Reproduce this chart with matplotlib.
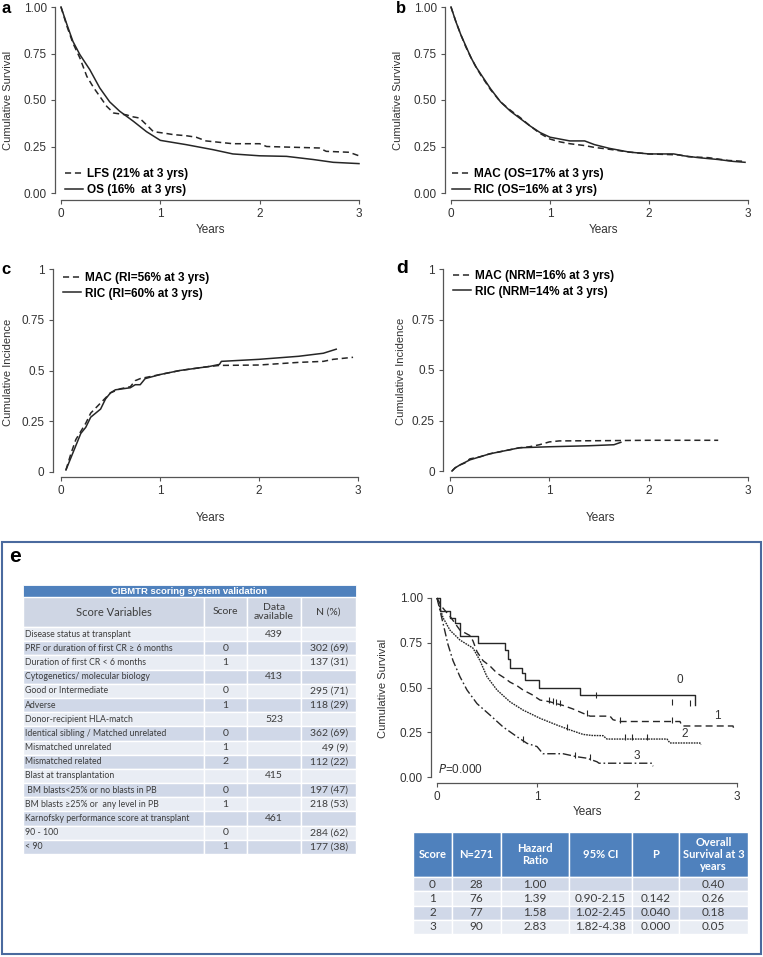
import numpy as np
import matplotlib.pyplot as plt
from matplotlib.patches import Rectangle

W, H = 763, 957
plt.rcParams['font.family'] = ['Liberation Sans', 'DejaVu Sans']

# ---- panel a: LFS / OS ----
a_lfs_t = [0, 0.06, 0.12, 0.19, 0.26, 0.33, 0.39, 0.46, 0.53, 0.66, 0.72, 0.79, 0.86, 0.93,
           1.06, 1.13, 1.26, 1.36, 1.46, 1.73, 2.0, 2.07, 2.6, 2.67, 2.9, 3.0]
a_lfs_s = [1.0, 0.896, 0.806, 0.726, 0.627, 0.565, 0.52, 0.466, 0.43, 0.42, 0.41, 0.403, 0.367,
           0.33, 0.32, 0.314, 0.308, 0.30, 0.28, 0.265, 0.265, 0.25, 0.242, 0.224, 0.219, 0.20]
a_os_t = [0, 0.06, 0.12, 0.19, 0.29, 0.39, 0.49, 0.59, 0.73, 0.86, 1.0, 1.26, 1.53, 1.73,
          2.0, 2.27, 2.54, 2.74, 3.0]
a_os_s = [1.0, 0.905, 0.815, 0.744, 0.663, 0.565, 0.49, 0.44, 0.385, 0.33, 0.283, 0.26, 0.233,
          0.21, 0.20, 0.197, 0.18, 0.165, 0.158]

# ---- panel b: MAC / RIC overall survival ----
b_mac_t = [0, 0.05, 0.1, 0.15, 0.2, 0.25, 0.3, 0.4, 0.5, 0.6, 0.7, 0.8, 0.9, 1.0, 1.1, 1.2,
           1.35, 1.45, 1.6, 1.8, 2.0, 2.3, 2.4, 2.6, 2.8, 2.97]
b_mac_s = [1.0, 0.92, 0.85, 0.785, 0.73, 0.68, 0.635, 0.555, 0.49, 0.445, 0.405, 0.36, 0.32,
           0.29, 0.275, 0.265, 0.255, 0.245, 0.235, 0.22, 0.21, 0.205, 0.195, 0.19, 0.175, 0.17]
b_ric_t = [0, 0.05, 0.1, 0.15, 0.2, 0.25, 0.3, 0.4, 0.5, 0.6, 0.7, 0.8, 0.9, 1.0, 1.1, 1.2,
           1.35, 1.45, 1.6, 1.8, 2.0, 2.25, 2.35, 2.5, 2.7, 2.85, 2.97]
b_ric_s = [1.0, 0.92, 0.85, 0.79, 0.73, 0.68, 0.64, 0.56, 0.49, 0.44, 0.40, 0.36, 0.325, 0.30,
           0.29, 0.28, 0.28, 0.26, 0.24, 0.22, 0.21, 0.21, 0.20, 0.19, 0.18, 0.17, 0.165]

# ---- panel c: relapse incidence ----
c_mac_t = [0.05, 0.1, 0.15, 0.2, 0.25, 0.3, 0.4, 0.5, 0.6, 0.7, 0.75, 0.8, 0.9, 1.0, 1.2,
           1.5, 1.6, 2.0, 2.4, 2.65, 2.75, 2.95]
c_mac_s = [0.01, 0.09, 0.16, 0.20, 0.24, 0.29, 0.34, 0.39, 0.41, 0.42, 0.45, 0.46, 0.47, 0.48,
           0.50, 0.52, 0.525, 0.527, 0.54, 0.545, 0.555, 0.565]
c_ric_t = [0.05, 0.1, 0.15, 0.2, 0.25, 0.3, 0.35, 0.4, 0.45, 0.5, 0.55, 0.7, 0.75, 0.8, 0.85,
           1.0, 1.2, 1.5, 1.6, 1.62, 2.0, 2.4, 2.65, 2.78]
c_ric_s = [0.01, 0.07, 0.13, 0.19, 0.22, 0.27, 0.29, 0.31, 0.36, 0.39, 0.405, 0.415, 0.43, 0.43,
           0.46, 0.48, 0.50, 0.52, 0.53, 0.545, 0.555, 0.57, 0.585, 0.605]

# ---- panel d: non-relapse mortality ----
d_mac_t = [0.02, 0.05, 0.1, 0.15, 0.2, 0.3, 0.4, 0.5, 0.6, 0.7, 0.8, 0.9, 1.0, 1.1, 1.5, 2.0, 2.7]
d_mac_s = [0.0, 0.015, 0.03, 0.04, 0.06, 0.07, 0.085, 0.095, 0.105, 0.115, 0.12, 0.13, 0.144,
           0.149, 0.15, 0.152, 0.152]
d_ric_t = [0.02, 0.05, 0.1, 0.2, 0.3, 0.4, 0.5, 0.6, 0.7, 1.0, 1.4, 1.65, 1.72]
d_ric_s = [0.0, 0.015, 0.03, 0.055, 0.07, 0.085, 0.095, 0.105, 0.115, 0.12, 0.125, 0.13, 0.142]

# ---- panel e: survival by CIBMTR score ----
e0_t = [0, 0.03, 0.13, 0.18, 0.23, 0.41, 0.68, 0.71, 0.73, 0.85, 0.88, 1.02, 1.43, 2.58]
e0_s = [1.0, 0.93, 0.89, 0.86, 0.79, 0.75, 0.71, 0.66, 0.61, 0.58, 0.54, 0.495, 0.457, 0.40]
e1_t = [0, 0.05, 0.14, 0.23, 0.33, 0.36, 0.40, 0.46, 0.53, 0.60, 0.67, 0.73, 0.80, 0.86, 0.95,
        1.03, 1.13, 1.26, 1.36, 1.46, 1.53, 1.73, 1.76, 1.83, 2.43, 2.45, 2.96, 2.97]
e1_s = [1.0, 0.95, 0.89, 0.82, 0.79, 0.76, 0.70, 0.65, 0.62, 0.58, 0.555, 0.53, 0.51, 0.486,
        0.46, 0.43, 0.42, 0.40, 0.38, 0.356, 0.34, 0.34, 0.32, 0.31, 0.31, 0.285, 0.285, 0.266]
e2_t = [0, 0.06, 0.13, 0.23, 0.36, 0.43, 0.50, 0.60, 0.73, 0.86, 1.03, 1.20, 1.33, 1.46, 1.55,
        1.66, 1.70, 2.30, 2.33, 2.63, 2.64]
e2_s = [1.0, 0.89, 0.82, 0.765, 0.72, 0.65, 0.56, 0.486, 0.42, 0.374, 0.328, 0.29, 0.263, 0.238,
        0.232, 0.231, 0.212, 0.212, 0.19, 0.19, 0.18]
e3_t = [0, 0.06, 0.11, 0.16, 0.23, 0.30, 0.40, 0.53, 0.66, 0.80, 0.90, 1.00, 1.06, 1.26, 1.40,
        1.50, 1.60, 1.62, 2.15, 2.16]
e3_s = [1.0, 0.86, 0.74, 0.65, 0.56, 0.486, 0.41, 0.346, 0.28, 0.225, 0.188, 0.17, 0.13, 0.13,
        0.113, 0.105, 0.085, 0.077, 0.077, 0.06]
e0_cens = [1.59, 2.35, 2.53]
e1_cens = [1.12, 1.16, 1.19, 1.23, 1.5, 1.83, 2.35]
e2_cens = [1.3, 1.88, 1.95, 2.1]
e3_cens = [0.86, 1.38, 1.53]

# ---- table: CIBMTR scoring system validation ----
t1_title = 'CIBMTR scoring system validation'
t1_cols = ['Score Variables', 'Score', 'Data\navailable', 'N (%)']
t1_var = ['Disease status at transplant', 'PRF or duration of first CR \u2265 6 months',
          'Duration of first CR < 6 months', 'Cytogenetics/ molecular biology',
          'Good or Intermediate', 'Adverse', 'Donor-recipient HLA-match',
          'Identical sibling / Matched unrelated', 'Mismatched unrelated', 'Mismatched related',
          'Blast at transplantation', ' BM blasts<25% or no blasts in PB',
          'BM blasts \u226525% or  any level in PB', 'Karnofsky performance score at transplant',
          '90 - 100', '< 90']
t1_score = ['', '0', '1', '', '0', '1', '', '0', '1', '2', '', '0', '1', '', '0', '1']
t1_avail = ['439', '', '', '413', '', '', '523', '', '', '', '415', '', '', '461', '', '']
t1_n = ['', '302 (69)', '137 (31)', '', '295 (71)', '118 (29)', '', '362 (69)', '49 (9)',
        '112 (22)', '', '197 (47)', '218 (53)', '', '284 (62)', '177 (38)']

# ---- table: hazard ratios by score ----
t2_cols = ['Score', 'N=271', 'Hazard\nRatio', '95% CI', 'P', 'Overall\nSurvival at 3\nyears']
t2_score = ['0', '1', '2', '3']
t2_n = ['28', '76', '77', '90']
t2_hr = ['1.00', '1.39', '1.58', '2.83']
t2_ci = ['', '0.90-2.15', '1.02-2.45', '1.82-4.38']
t2_p = ['', '0.142', '0.040', '0.000']
t2_os = ['0.40', '0.26', '0.18', '0.05']

LINE = '#262626'
SPINE = '#555555'
BLUE = '#4f81bd'
DARK_ROW = '#d0d8e8'
LIGHT_ROW = '#e9edf4'
TEXT = '#3c3c3c'
TFONT = ['Lato', 'DejaVu Sans']


def fx(x):
    return x / W


def fy(y):
    return 1 - y / H


def make_axes(fig, x0, x3, y1, y0, left_out, bottom_out, yticks, ylabels):
    # x0/x3: pixel of x=0 and x=3, y1/y0: pixel of y=1 and y=0
    ax = fig.add_axes([fx(x0), fy(y0), (x3 - x0) / W, (y0 - y1) / H])
    ax.set_xlim(0, 3)
    ax.set_ylim(0, 1)
    ax.patch.set_visible(False)
    ax.spines['top'].set_visible(False)
    ax.spines['right'].set_visible(False)
    ax.spines['left'].set_position(('outward', left_out))
    ax.spines['bottom'].set_position(('outward', bottom_out))
    ax.spines['left'].set_bounds(0, 1)
    ax.spines['bottom'].set_bounds(0, 3)
    for s in ['left', 'bottom']:
        ax.spines[s].set_color(SPINE)
        ax.spines[s].set_linewidth(0.9)
    ax.set_xticks([0, 1, 2, 3])
    ax.set_yticks(yticks, ylabels)
    ax.tick_params(length=3, width=0.8, color=SPINE, labelsize=8.5, labelcolor='#333333', pad=3)
    return ax


def legend(ax, loc, anchor):
    ax.legend(loc=loc, bbox_to_anchor=anchor, frameon=False, borderpad=0, borderaxespad=0,
              handlelength=1.5, handletextpad=0.35, labelspacing=0.3,
              prop={'weight': 'bold', 'size': 8.5})


surv_ticks = [0, 0.25, 0.5, 0.75, 1.0]
surv_labels = ['0.00', '0.25', '0.50', '0.75', '1.00']
inc_labels = ['0', '0.25', '0.5', '0.75', '1']
dash = (0, (4, 2.5))

fig = plt.figure(figsize=(W / 100, H / 100), dpi=100)

# overlay in pixel coordinates for the tables and the frame of panel e
ov = fig.add_axes([0, 0, 1, 1])
ov.set_xlim(0, W)
ov.set_ylim(H, 0)
ov.axis('off')

# panel a
ax = make_axes(fig, 61, 359, 7, 193, 4.3, 5, surv_ticks, surv_labels)
ax.plot(a_lfs_t, a_lfs_s, color=LINE, lw=1.1, ls=dash, label='LFS (21% at 3 yrs)', clip_on=False)
ax.plot(a_os_t, a_os_s, color=LINE, lw=1.1, label='OS (16%  at 3 yrs)', clip_on=False)
legend(ax, 'lower left', (0.013, -0.016))
fig.text(fx(8), fy(100), 'Cumulative Survival', rotation=90, ha='center', va='center',
         fontsize=8, color='#333333')
fig.text(fx(210), fy(230), 'Years', ha='center', va='center', fontsize=8.5, color='#333333')
fig.text(fx(1), fy(1), 'a', ha='left', va='top', fontsize=12, fontweight='bold')

# panel b
ax = make_axes(fig, 451, 748, 7, 193, 4.3, 5, surv_ticks, surv_labels)
ax.plot(b_mac_t, b_mac_s, color=LINE, lw=1.1, ls=dash, label='MAC (OS=17% at 3 yrs)', clip_on=False)
ax.plot(b_ric_t, b_ric_s, color=LINE, lw=1.1, label='RIC (OS=16% at 3 yrs)', clip_on=False)
legend(ax, 'lower left', (0.003, -0.016))
fig.text(fx(398), fy(100), 'Cumulative Survival', rotation=90, ha='center', va='center',
         fontsize=8, color='#333333')
fig.text(fx(603), fy(230), 'Years', ha='center', va='center', fontsize=8.5, color='#333333')
fig.text(fx(396), fy(1), 'b', ha='left', va='top', fontsize=12, fontweight='bold')

# panel c
ax = make_axes(fig, 61, 358, 269, 472, 5.8, 3.6, surv_ticks, inc_labels)
ax.plot(c_mac_t, c_mac_s, color=LINE, lw=1.1, ls=dash, label='MAC (RI=56% at 3 yrs)', clip_on=False)
ax.plot(c_ric_t, c_ric_s, color=LINE, lw=1.1, label='RIC (RI=60% at 3 yrs)', clip_on=False)
legend(ax, 'upper left', (0.007, 0.985))
fig.text(fx(8), fy(372), 'Cumulative Incidence', rotation=90, ha='center', va='center',
         fontsize=8, color='#333333')
fig.text(fx(210), fy(518), 'Years', ha='center', va='center', fontsize=8.5, color='#333333')
fig.text(fx(1), fy(262), 'c', ha='left', va='top', fontsize=12, fontweight='bold')

# panel d
ax = make_axes(fig, 450, 748, 269, 471, 5, 4, surv_ticks, inc_labels)
ax.plot(d_mac_t, d_mac_s, color=LINE, lw=1.1, ls=dash, label='MAC (NRM=16% at 3 yrs)', clip_on=False)
ax.plot(d_ric_t, d_ric_s, color=LINE, lw=1.1, label='RIC (NRM=14% at 3 yrs)', clip_on=False)
legend(ax, 'upper left', (0.01, 0.995))
fig.text(fx(401), fy(371), 'Cumulative Incidence', rotation=90, ha='center', va='center',
         fontsize=8, color='#333333')
fig.text(fx(600), fy(518), 'Years', ha='center', va='center', fontsize=8.5, color='#333333')
fig.text(fx(396), fy(260), 'd', ha='left', va='top', fontsize=14, fontweight='bold')

# panel e frame and letter
ov.add_patch(Rectangle((2, 542), 759, 412, fill=False, edgecolor='#4a6a9e', lw=1.5))
fig.text(fx(9), fy(556), 'e', ha='left', va='center', fontsize=15, fontweight='bold')

# panel e survival curves
ax = make_axes(fig, 437, 737, 598, 777, 4.3, 4.3, surv_ticks, surv_labels)
styles = ['-', (0, (5, 3)), (0, (1.2, 0.7)), (0, (6, 2, 1.2, 2))]
curves = [(e0_t, e0_s, e0_cens), (e1_t, e1_s, e1_cens), (e2_t, e2_s, e2_cens), (e3_t, e3_s, e3_cens)]
for i, (t, s, cens) in enumerate(curves):
    ds = 'steps-post' if i == 0 else 'default'
    ax.plot(t, s, color=LINE, lw=1.0, ls=styles[i], drawstyle=ds, clip_on=False)
    ax.plot(cens, np.interp(cens, t, s) + 0.01, ls='none', marker='|', ms=4, mew=0.8,
            color=LINE, clip_on=False)
for lab, x, y in [('0', 2.43, 0.54), ('1', 2.8, 0.34), ('2', 2.48, 0.24), ('3', 2.0, 0.12)]:
    ax.text(x, y, lab, ha='center', va='center', fontsize=8.5, color='#333333')
ax.text(0.01, 0.04, '$P$=0.000', ha='left', va='center', fontsize=8.5, color='#333333')
fig.text(fx(383), fy(688), 'Cumulative Survival', rotation=90, ha='center', va='center',
         fontsize=8, color='#333333')
fig.text(fx(587), fy(812), 'Years', ha='center', va='center', fontsize=8.5, color='#333333')

# left table
t1_x = [23, 204, 247, 301, 356]
ov.add_patch(Rectangle((t1_x[0], 585), t1_x[-1] - t1_x[0], 12, facecolor=BLUE, edgecolor='white', lw=0.6))
ov.text((t1_x[0] + t1_x[-1]) / 2, 591, t1_title, ha='center', va='center', color='white',
        fontsize=6.8, fontweight='bold')
for j, col in enumerate(t1_cols):
    ov.add_patch(Rectangle((t1_x[j], 597), t1_x[j + 1] - t1_x[j], 30, facecolor='#cfd6e4',
                           edgecolor='white', lw=1))
    ov.text((t1_x[j] + t1_x[j + 1]) / 2, 612, col, ha='center', va='center',
            fontsize=8 if j == 0 else 7.5, color=TEXT, family=TFONT, linespacing=1.0)
row_h = (854 - 627) / len(t1_var)
for i in range(len(t1_var)):
    y = 627 + i * row_h
    fc = LIGHT_ROW if i % 2 == 0 else DARK_ROW
    for j in range(4):
        ov.add_patch(Rectangle((t1_x[j], y), t1_x[j + 1] - t1_x[j], row_h, facecolor=fc,
                               edgecolor='white', lw=1))
    yc = y + row_h / 2
    ov.text(t1_x[0] + 2, yc, t1_var[i], ha='left', va='center', fontsize=6.3, color=TEXT, family=TFONT)
    ov.text((t1_x[1] + t1_x[2]) / 2, yc, t1_score[i], ha='center', va='center', fontsize=7.5,
            color=TEXT, family=TFONT)
    ov.text((t1_x[2] + t1_x[3]) / 2, yc, t1_avail[i], ha='center', va='center', fontsize=7.5,
            color=TEXT, family=TFONT)
    ov.text(t1_x[4] - 8, yc, t1_n[i], ha='right', va='center', fontsize=7.5, color=TEXT,
            family=TFONT)

# bottom right table
t2_x = [413, 452, 501, 569, 632, 679, 748]
for j, col in enumerate(t2_cols):
    ov.add_patch(Rectangle((t2_x[j], 832), t2_x[j + 1] - t2_x[j], 45, facecolor=BLUE,
                           edgecolor='white', lw=1))
    ov.text((t2_x[j] + t2_x[j + 1]) / 2, 854.5, col, ha='center', va='center', fontsize=8,
            color='white', fontweight='bold', family=TFONT, linespacing=1.1)
rows2 = list(zip(t2_score, t2_n, t2_hr, t2_ci, t2_p, t2_os))
row_h2 = (934 - 877) / len(rows2)
for i, row in enumerate(rows2):
    y = 877 + i * row_h2
    fc = DARK_ROW if i % 2 == 0 else LIGHT_ROW
    for j, val in enumerate(row):
        ov.add_patch(Rectangle((t2_x[j], y), t2_x[j + 1] - t2_x[j], row_h2, facecolor=fc,
                               edgecolor='white', lw=1))
        ov.text((t2_x[j] + t2_x[j + 1]) / 2, y + row_h2 / 2, val, ha='center', va='center',
                fontsize=8.5, color=TEXT, family=TFONT)

fig.savefig('out.png', dpi=100)
